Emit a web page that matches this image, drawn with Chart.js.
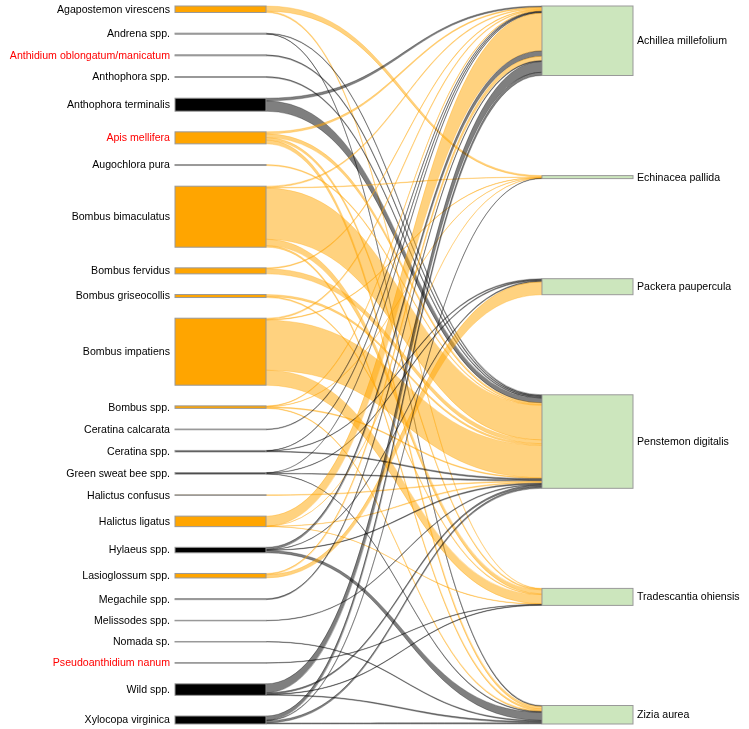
<!DOCTYPE html>
<html lang="en">
<head>
  <meta charset="UTF-8" />
  <title>Bee - plant visitation web</title>
  <script src="https://cdn.jsdelivr.net/npm/chart.js"></script>
  <style>
    body { margin: 0; padding: 0; background: #fff; }
    canvas { display: block; }
  </style>
</head>
<body>
  <canvas id="web" width="749" height="729"></canvas>

  <script>
    // bees (left column), top to bottom
    const bees = [
      'Agapostemon virescens', 'Andrena spp.', 'Anthidium oblongatum/manicatum', 'Anthophora spp.',
      'Anthophora terminalis', 'Apis mellifera', 'Augochlora pura', 'Bombus bimaculatus',
      'Bombus fervidus', 'Bombus griseocollis', 'Bombus impatiens', 'Bombus spp.',
      'Ceratina calcarata', 'Ceratina spp.', 'Green sweat bee spp.', 'Halictus confusus',
      'Halictus ligatus', 'Hylaeus spp.', 'Lasioglossum spp.', 'Megachile spp.',
      'Melissodes spp.', 'Nomada sp.', 'Pseudoanthidium nanum', 'Wild spp.', 'Xylocopa virginica'
    ];
    const beeSizes = [6.5, 1, 1, 1, 13, 12, 1, 61, 6, 3, 67, 2.5, 0.7, 1.5, 1.5, 0.7, 10.5, 5.5, 4.5, 1, 0.5, 0.5, 0.5, 11.5, 8];
    // 'o' = orange group, 'k' = black group
    const beeGroup = ['o','k','k','k','k','o','o','o','o','o','o','o','k','k','k','o','o','k','o','k','k','k','k','k','k'];
    const introduced = ['Anthidium oblongatum/manicatum', 'Apis mellifera', 'Pseudoanthidium nanum'];

    // plants (right column)
    const plants = ['Achillea millefolium', 'Echinacea pallida', 'Packera paupercula',
                    'Penstemon digitalis', 'Tradescantia ohiensis', 'Zizia aurea'];
    const plantSizes = [69.5, 3, 16, 93.5, 17, 18.5];

    // visits: rows = bees, columns = plants (same order as above)
    const visits = [
      [0,   1.5, 0,   0,   0.4, 0  ],
      [0,   0,   0,   1,   0,   0.6],
      [0,   0,   0,   1,   0,   0  ],
      [0,   0,   0,   1,   0,   0  ],
      [1.2, 0,   0,   4.5, 0,   0  ],
      [0.8, 0,   0,   1.5, 1,   1.5],
      [0,   0,   0,   0.7, 0,   0  ],
      [0.8, 0.4, 0,   32,  4,   1  ],
      [0.6, 0,   0,   3.5, 0,   0  ],
      [0,   0,   0,   1.5, 0.8, 0  ],
      [0.8, 0.4, 0,   30,  9,   0  ],
      [0.6, 0.3, 0,   0.8, 0,   0.6],
      [0.6, 0,   0,   0,   0,   0  ],
      [0.6, 0,   0.8, 1.2, 0,   0  ],
      [0.6, 0,   0.8, 1.2, 0,   0.5],
      [0,   0,   0,   0.8, 0,   0  ],
      [35,  0.3, 0,   1,   0.5, 0  ],
      [5,   0,   0.8, 1,   0,   5  ],
      [4,   0,   10,  0,   0,   0  ],
      [0.8, 0,   0,   0,   0,   0  ],
      [0,   0,   0,   0.8, 0,   0  ],
      [0,   0,   0,   0,   0,   0.6],
      [0,   0,   0,   0,   0.5, 0  ],
      [10,  0,   0,   1.5, 0.6, 0.8],
      [3,   0.4, 0,   1.5, 0,   0.8]
    ];

    const Y_SPAN = 718;          // vertical extent of each column, in y-scale units
    const BEE_X = [175, 266];    // left bars (x-scale units)
    const PLANT_X = [542, 633];  // right bars

    const fills = { o: '#ffa500', k: '#000000' };
    const linkFills = { o: 'rgba(255,165,0,0.5)', k: 'rgba(0,0,0,0.5)' };
    const linkEdges = { o: 'rgba(255,165,0,0.35)', k: 'rgba(0,0,0,0.35)' };

    // stack the nodes of a column, spreading the free space evenly between them
    function stack(sizes) {
      const total = sizes.reduce((a, b) => a + b, 0);
      const gap = (Y_SPAN - total) / (sizes.length - 1);
      let acc = 0;
      return sizes.map(s => { const top = acc; acc += s + gap; return [top, top + s]; });
    }

    const webPlugin = {
      id: 'web',
      afterDatasetsDraw(chart) {
        const { ctx, scales: { x, y } } = chart;
        const beeNodes = stack(beeSizes);
        const plantNodes = stack(plantSizes);

        // link ends: split each node in proportion to its visits
        const beeEnds = visits.map((row, i) => {
          const sum = row.reduce((a, b) => a + b, 0);
          let cur = beeNodes[i][0];
          const h = beeNodes[i][1] - beeNodes[i][0];
          return row.map(v => { const seg = [cur, cur + v / sum * h]; cur = seg[1]; return seg; });
        });
        const plantEnds = plants.map((p, j) => {
          const sum = visits.reduce((a, row) => a + row[j], 0);
          let cur = plantNodes[j][0];
          const h = plantNodes[j][1] - plantNodes[j][0];
          return visits.map(row => { const seg = [cur, cur + row[j] / sum * h]; cur = seg[1]; return seg; });
        });

        const x0 = x.getPixelForValue(BEE_X[1]);
        const x1 = x.getPixelForValue(PLANT_X[0]);
        const xm = (x0 + x1) / 2;

        ctx.save();
        // links
        visits.forEach((row, i) => {
          row.forEach((v, j) => {
            if (!v) return;
            const a0 = y.getPixelForValue(beeEnds[i][j][0]);
            const a1 = y.getPixelForValue(beeEnds[i][j][1]);
            const b0 = y.getPixelForValue(plantEnds[j][i][0]);
            const b1 = y.getPixelForValue(plantEnds[j][i][1]);
            ctx.beginPath();
            ctx.moveTo(x0, a0);
            ctx.bezierCurveTo(xm, a0, xm, b0, x1, b0);
            ctx.lineTo(x1, b1);
            ctx.bezierCurveTo(xm, b1, xm, a1, x0, a1);
            ctx.closePath();
            ctx.fillStyle = linkFills[beeGroup[i]];
            ctx.fill();
            ctx.lineWidth = 0.8;
            ctx.strokeStyle = linkEdges[beeGroup[i]];
            ctx.stroke();
          });
        });

        // nodes
        ctx.lineWidth = 1;
        ctx.strokeStyle = '#999';
        ctx.font = '10.6px "Liberation Sans", Arial, sans-serif';
        ctx.textBaseline = 'middle';
        beeNodes.forEach(([t, b], i) => {
          const l = x.getPixelForValue(BEE_X[0]), r = x.getPixelForValue(BEE_X[1]);
          const top = y.getPixelForValue(t), bot = y.getPixelForValue(b);
          ctx.fillStyle = fills[beeGroup[i]];
          ctx.fillRect(l, top, r - l, bot - top);
          ctx.strokeRect(l, top, r - l, bot - top);
          ctx.fillStyle = introduced.includes(bees[i]) ? '#ff0000' : '#000';
          ctx.textAlign = 'right';
          ctx.fillText(bees[i], l - 5, (top + bot) / 2 + 0.5);
        });
        plantNodes.forEach(([t, b], j) => {
          const l = x.getPixelForValue(PLANT_X[0]), r = x.getPixelForValue(PLANT_X[1]);
          const top = y.getPixelForValue(t), bot = y.getPixelForValue(b);
          ctx.fillStyle = '#cce6bd';
          ctx.fillRect(l, top, r - l, bot - top);
          ctx.strokeRect(l, top, r - l, bot - top);
          ctx.fillStyle = '#000';
          ctx.textAlign = 'left';
          ctx.fillText(plants[j], r + 4, (top + bot) / 2 + 0.5);
        });
        ctx.restore();
      }
    };

    new Chart(document.getElementById('web'), {
      type: 'scatter',
      data: { datasets: [{ data: [] }] },
      options: {
        responsive: false,
        animation: false,
        layout: { padding: { top: 6, bottom: 5, left: 0, right: 0 } },
        plugins: { legend: { display: false }, tooltip: { enabled: false } },
        scales: {
          x: { type: 'linear', min: 0, max: 749, display: false },
          y: { type: 'linear', min: 0, max: Y_SPAN, reverse: true, display: false }
        }
      },
      plugins: [webPlugin]
    });
  </script>
</body>
</html>
